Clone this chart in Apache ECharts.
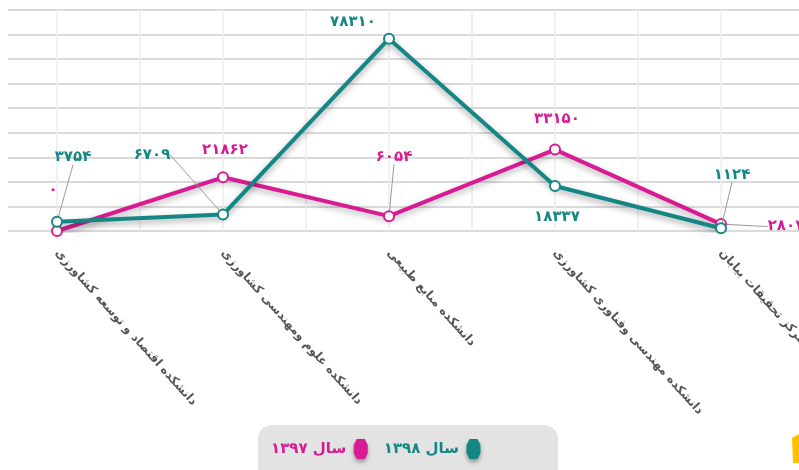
<!DOCTYPE html>
<html>
<head>
    <meta charset="UTF-8">
    <title>chart</title>
    <script src="https://cdn.jsdelivr.net/npm/echarts@6/dist/echarts.min.js"></script>
    <style>
        html, body { margin: 0; padding: 0; background: #fff; }
        #chart { width: 799px; height: 470px; }
    </style>
</head>
<body>
<div id="chart"></div>
<script type="text/javascript">
    // دسته‌ها و داده‌ها
    var categories = [
        'دانشکده اقتصاد و توسعه کشاورزی',
        'دانشکده علوم ومهندسی کشاورزی',
        'دانشکده منابع طبیعی',
        'دانشکده مهندسی وفناوری کشاورزی',
        'مرکز تحقیقات بیابان'
    ];
    var year1398 = [3754, 6709, 78310, 18337, 1124];
    var year1397 = [0, 21862, 6054, 33150, 2807];
    var seriesNames = ['سال ۱۳۹۸', 'سال ۱۳۹۷'];
    var yTicks = { min: 0, max: 90000, interval: 10000 };
    // ستون‌های کمکی برای خطوط عمودی شبکه
    var gridSlots = ['', '', '', '', '', '', '', '', '', ''];

    var tealColor = '#148784';
    var pinkColor = '#d81b93';

    // جابجایی برچسب‌ها نسبت به جای پیش‌فرض (بالا)
    var labelMove = [
        [[16, -46, true], [-71, -41, true], [-36, 2, false], [2, 50, false], [11, -35, true]],
        [[-4, -22, false], [2, -9, false], [5, -41, true], [2, -12, false], [65, 21, true]]
    ];

    function toFa(n) {
        return String(n).replace(/\d/g, function (d) { return '۰۱۲۳۴۵۶۷۸۹'[d]; });
    }

    function makeData(values, s) {
        return values.map(function (v, i) {
            return { value: v, labelLine: { show: labelMove[s][i][2] } };
        });
    }

    var hexIcon = 'path://M3,0 L11,0 L14,6 L14,14 L11,20 L3,20 L0,14 L0,6 Z';

    var myChart = echarts.init(document.getElementById('chart'));

    var option = {
        backgroundColor: '#ffffff',
        animation: false,
        textStyle: { fontFamily: 'DejaVu Sans' },
        grid: { left: -26, right: -5, top: 10, bottom: 239, containLabel: false, outerBoundsMode: 'none' },
        graphic: [
            { type: 'rect', z: 1, shape: { x: 0, y: 0, width: 8, height: 240 }, style: { fill: '#fff' } },
            {
                type: 'rect', z: 0,
                shape: { x: 258, y: 425, width: 300, height: 60, r: 14 },
                style: { fill: '#e3e3e3' }
            },
            {
                type: 'polygon', z: 0,
                shape: { points: [[792, 438], [799, 434], [799, 463], [793, 463]] },
                style: { fill: '#ffc000' }
            }
        ],
        legend: {
            data: [
                { name: seriesNames[1], textStyle: { color: pinkColor } },
                { name: seriesNames[0], textStyle: { color: tealColor } }
            ],
            left: 266,
            top: 434,
            align: 'right',
            itemGap: 16,
            itemWidth: 15,
            itemHeight: 20,
            icon: hexIcon,
            itemStyle: { shadowColor: 'rgba(0,0,0,0.35)', shadowBlur: 4, shadowOffsetY: 3 },
            textStyle: { fontSize: 15, fontWeight: 'bold', fontFamily: 'DejaVu Sans', padding: [0, 2, 0, 0] }
        },
        xAxis: [
            {
                type: 'category',
                data: categories,
                boundaryGap: true,
                axisLine: { show: false },
                axisTick: { show: false },
                splitLine: { show: false },
                axisLabel: {
                    interval: 0,
                    rotate: -48,
                    margin: 20,
                    color: '#555',
                    fontSize: 12,
                    fontWeight: 'bold'
                }
            },
            {
                type: 'category',
                data: gridSlots,
                boundaryGap: true,
                position: 'bottom',
                axisLine: { show: false },
                axisTick: { show: false },
                axisLabel: { show: false },
                splitLine: { show: true, lineStyle: { color: '#ececec', width: 1.5 } }
            }
        ],
        yAxis: {
            type: 'value',
            min: yTicks.min,
            max: yTicks.max,
            interval: yTicks.interval,
            axisLine: { show: false },
            axisTick: { show: false },
            axisLabel: { show: false },
            splitLine: { lineStyle: { color: '#dadada', width: 2 } }
        },
        series: [
            {
                name: seriesNames[0],
                type: 'line',
                data: makeData(year1398, 0),
                symbol: 'emptyCircle',
                symbolSize: 10,
                color: tealColor,
                itemStyle: { color: tealColor, borderWidth: 2 },
                lineStyle: { width: 4, shadowColor: 'rgba(0,0,0,0.35)', shadowBlur: 6, shadowOffsetY: 3 },
                z: 3,
                label: {
                    show: true,
                    position: 'top',
                    color: tealColor,
                    fontSize: 15,
                    fontWeight: 'bold',
                    formatter: function (p) { return toFa(p.value); }
                },
                labelLine: { show: false, lineStyle: { color: '#9a9a9a', width: 1 } },
                labelLayout: function (p) {
                    var m = labelMove[0][p.dataIndex];
                    return { dx: m[0], dy: m[1] };
                }
            },
            {
                name: seriesNames[1],
                type: 'line',
                data: makeData(year1397, 1),
                symbol: 'emptyCircle',
                symbolSize: 10,
                color: pinkColor,
                itemStyle: { color: pinkColor, borderWidth: 2 },
                lineStyle: { width: 4, shadowColor: 'rgba(0,0,0,0.3)', shadowBlur: 6, shadowOffsetY: 3 },
                z: 2,
                label: {
                    show: true,
                    position: 'top',
                    color: pinkColor,
                    fontSize: 15,
                    fontWeight: 'bold',
                    formatter: function (p) { return toFa(p.value); }
                },
                labelLine: { show: false, lineStyle: { color: '#9a9a9a', width: 1 } },
                labelLayout: function (p) {
                    var m = labelMove[1][p.dataIndex];
                    return { dx: m[0], dy: m[1] };
                }
            }
        ]
    };

    myChart.setOption(option);
</script>
</body>
</html>
